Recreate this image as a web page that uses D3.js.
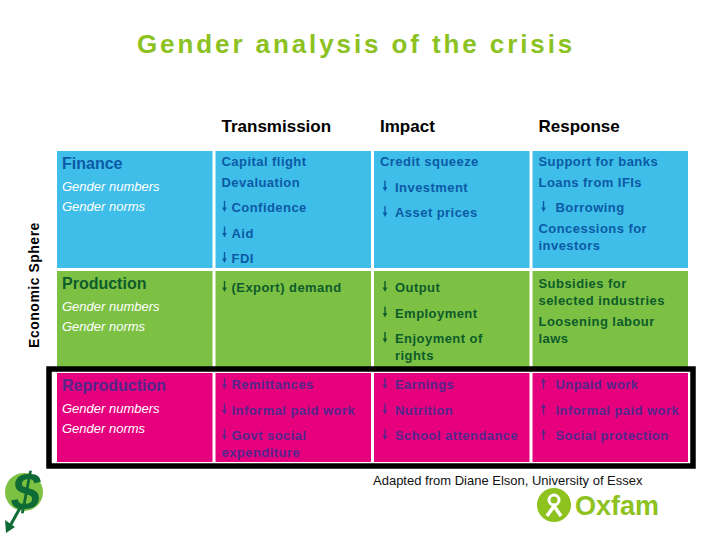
<!DOCTYPE html>
<meta charset="utf-8">
<style>
body { margin: 0; background: white; }
svg text { font-family: "Liberation Sans", Arial, sans-serif; }
.title { font-size: 26px; font-weight: bold; fill: #8cc21f; letter-spacing: 2.9px; }
.head text { font-size: 17px; font-weight: bold; fill: #000; }
.sphere { font-size: 16px; font-weight: bold; }
.gender { font-size: 13px; font-style: italic; fill: #fff; }
.item { font-size: 13px; font-weight: bold; letter-spacing: 0.45px; }
.credit { font-size: 13px; fill: #111; }
</style>
<svg></svg>
<script src="https://cdn.jsdelivr.net/npm/d3@7"></script>
<script>

var width = 720, height = 540;

// column headers and row labels
var columns = ['Spheres', 'Transmission', 'Impact', 'Response'];
var spheres = ['Finance', 'Production', 'Reproduction'];
var genderLines = ['Gender numbers', 'Gender norms'];

// cell contents, one array per row; d = arrow direction
var transmission = [
  [{t: ['Capital flight']}, {t: ['Devaluation']}, {t: ['Confidence'], d: 'down'}, {t: ['Aid'], d: 'down'}, {t: ['FDI'], d: 'down'}],
  [{t: ['(Export) demand'], d: 'down'}],
  [{t: ['Remittances'], d: 'down'}, {t: ['Informal paid work'], d: 'down'}, {t: ['Govt social', 'expenditure'], d: 'down', out: true}]
];
var impact = [
  [{t: ['Credit squeeze']}, {t: ['Investment'], d: 'down'}, {t: ['Asset prices'], d: 'down'}],
  [{t: ['Output'], d: 'down'}, {t: ['Employment'], d: 'down'}, {t: ['Enjoyment of', 'rights'], d: 'down'}],
  [{t: ['Earnings'], d: 'down'}, {t: ['Nutrition'], d: 'down'}, {t: ['School attendance'], d: 'down'}]
];
var response = [
  [{t: ['Support for banks']}, {t: ['Loans from IFIs']}, {t: ['Borrowing'], d: 'down'}, {t: ['Concessions for', 'investors']}],
  [{t: ['Subsidies for', 'selected industries']}, {t: ['Loosening labour', 'laws']}],
  [{t: ['Unpaid work'], d: 'up'}, {t: ['Informal paid work'], d: 'up'}, {t: ['Social protection'], d: 'up'}]
];

var rowFill = ['#3fbee9', '#7cc143', '#e6007e'];
var rowInk = ['#0b5aa6', '#0e5b2b', '#55268a'];
var rowHeight = [117, 96, 89];
var rowGap = [0, 3, 6];
var firstLine = [15, 21, 16];
var arrowIndent = [0, 16, 21, 23];

var svg = d3.select('svg').attr('width', width).attr('height', height);

var x = d3.scaleBand().domain(columns).range([57, 688]).paddingInner(0.019);

var rowTop = [];
rowHeight.reduce(function (acc, h, i) { rowTop.push(acc + rowGap[i]); return acc + rowGap[i] + h; }, 151);

svg.append('text').attr('class', 'title').attr('x', 137).attr('y', 53).text('Gender analysis of the crisis');

svg.append('g').attr('class', 'head')
  .selectAll('text').data(columns.slice(1))
  .enter().append('text')
  .attr('x', function (d) { return x(d) + 6; })
  .attr('y', 132)
  .text(function (d) { return d; });

svg.append('text')
  .attr('transform', 'translate(39,285) rotate(-90)')
  .attr('text-anchor', 'middle')
  .style('font-size', '14px').style('font-weight', 'bold').style('letter-spacing', '0.5px')
  .text('Economic Sphere');

// cells
spheres.forEach(function (s, r) {
  var g = svg.append('g').attr('class', 'row');
  g.selectAll('rect').data(columns).enter().append('rect')
    .attr('x', function (d) { return x(d); })
    .attr('y', rowTop[r])
    .attr('width', x.bandwidth())
    .attr('height', rowHeight[r])
    .attr('fill', rowFill[r]);

  g.append('text').attr('class', 'sphere')
    .attr('x', x(columns[0]) + 5).attr('y', rowTop[r] + 18)
    .attr('fill', rowInk[r]).text(s);
  g.selectAll('.gender').data(genderLines).enter().append('text')
    .attr('class', 'gender')
    .attr('x', x(columns[0]) + 5)
    .attr('y', function (d, i) { return rowTop[r] + 40 + i * 20; })
    .text(function (d) { return d; });

  [transmission[r], impact[r], response[r]].forEach(function (items, c) {
    var col = columns[c + 1];
    var left = x(col);
    var y = rowTop[r] + (items[0].d ? firstLine[r] : Math.min(firstLine[r], 17));
    items.forEach(function (it, i) {
      if (i > 0) y += it.d ? 25.5 : 20.5;
      var tx = it.d ? left + arrowIndent[c + 1] : left + 6;
      if (it.d) drawArrow(g, left + 9 + (c > 0 ? 2 : 0), y, it.d, rowInk[r]);
      it.t.forEach(function (line, j) {
        if (j > 0) y += 17;
        g.append('text').attr('class', 'item')
          .attr('x', j > 0 && it.out ? left + 6 : tx)
          .attr('y', y)
          .attr('fill', rowInk[r])
          .text(line);
      });
    });
  });
});

// frame round the reproduction row
svg.append('rect')
  .attr('x', 49).attr('y', rowTop[2] - 4)
  .attr('width', 644).attr('height', rowHeight[2] + 8)
  .attr('fill', 'none').attr('stroke', '#000').attr('stroke-width', 5.5);

function drawArrow (g, ax, by, dir, color) {
  var top = by - 11, bot = by;
  g.append('line').attr('x1', ax).attr('x2', ax)
    .attr('y1', dir === 'down' ? top : top + 3).attr('y2', dir === 'down' ? bot - 3 : bot)
    .attr('stroke', color).attr('stroke-width', 1.4);
  var tip = dir === 'down' ? bot : top, base = dir === 'down' ? bot - 4.5 : top + 4.5;
  g.append('path')
    .attr('d', 'M' + (ax - 2.3) + ',' + base + 'L' + (ax + 2.3) + ',' + base + 'L' + ax + ',' + tip + 'Z')
    .attr('fill', color);
}

svg.append('text').attr('class', 'credit').attr('x', 373).attr('y', 485)
  .text('Adapted from Diane Elson, University of Essex');

// Oxfam logo
var ox = svg.append('g');
ox.append('circle').attr('cx', 554).attr('cy', 505).attr('r', 17).attr('fill', '#8dc21f');
ox.append('circle').attr('cx', 554).attr('cy', 500).attr('r', 5).attr('fill', 'none').attr('stroke', '#fff').attr('stroke-width', 3);
ox.append('path').attr('d', 'M547,516 L554,506 L561,516').attr('fill', 'none').attr('stroke', '#fff').attr('stroke-width', 3.5);
ox.append('text').attr('x', 575).attr('y', 515).style('font-size', '27px').style('font-weight', 'bold')
  .attr('fill', '#8dc21f').text('Oxfam');

// left logo: globe with dollar sign
var lg = svg.append('g');
lg.append('circle').attr('cx', 24).attr('cy', 492).attr('r', 19).attr('fill', '#7cc142');
lg.append('text').attr('x', 26).attr('y', 510).attr('text-anchor', 'middle')
  .style('font-size', '52px').style('font-weight', 'bold').style('font-style', 'italic')
  .attr('fill', '#0f6b35').text('$');
lg.append('line').attr('x1', 20).attr('y1', 508).attr('x2', 10).attr('y2', 526)
  .attr('stroke', '#0f6b35').attr('stroke-width', 3);
lg.append('path').attr('d', 'M5,520 L15,527 L6,533 Z').attr('fill', '#0f6b35');

</script>
